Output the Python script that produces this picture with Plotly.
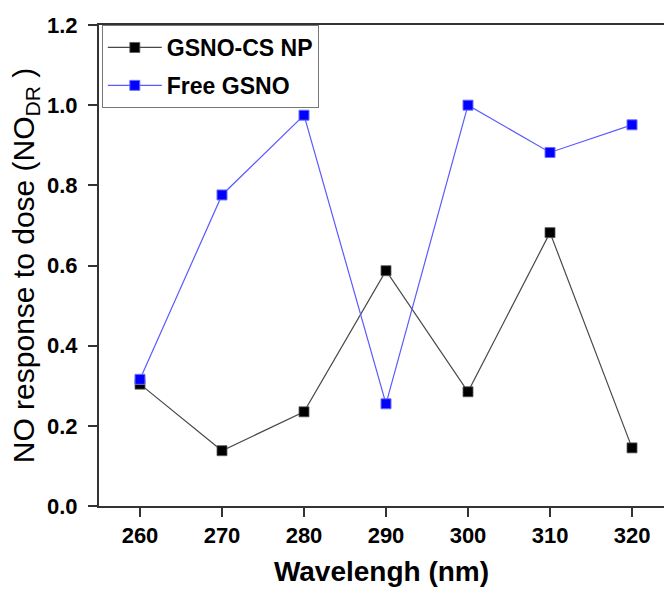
import plotly.graph_objects as go

# Dados
wavelength = [260, 270, 280, 290, 300, 310, 320]
gsno_cs_np = [0.304, 0.138, 0.235, 0.587, 0.285, 0.682, 0.145]
free_gsno = [0.316, 0.776, 0.975, 0.255, 1.000, 0.882, 0.951]

FONT = "Liberation Sans, Arial, sans-serif"

fig = go.Figure()
fig.add_trace(go.Scatter(
    x=wavelength, y=gsno_cs_np, mode="lines+markers", name="GSNO-CS NP",
    line=dict(color="rgba(40,40,40,0.85)", width=1.2),
    marker=dict(symbol="square", size=10, color="black",
                line=dict(color="rgba(90,90,90,0.8)", width=1)),
    legendgroup="a",
))
fig.add_trace(go.Scatter(
    x=wavelength, y=free_gsno, mode="lines+markers", name="Free GSNO",
    line=dict(color="rgb(90,90,255)", width=1.2),
    marker=dict(symbol="square", size=10, color="rgb(0,0,255)",
                line=dict(color="rgb(110,110,255)", width=1)),
    legendgroup="b",
))

fig.update_layout(
    width=664, height=590,
    margin=dict(l=99, r=0, t=25, b=84),
    paper_bgcolor="white", plot_bgcolor="white",
    font=dict(family=FONT, color="black"),
    showlegend=True,
    legend=dict(
        x=0.005, y=1, xanchor="left", yanchor="top",
        bgcolor="white", bordercolor="#777", borderwidth=1,
        font=dict(size=23, family=FONT, color="black", weight="bold"),
        tracegroupgap=5, itemwidth=54,
    ),
    xaxis=dict(
        range=[255, 323.9], tickvals=wavelength,
        showline=True, linecolor="#333", linewidth=2, mirror=True,
        ticks="outside", ticklen=9, tickwidth=2, tickcolor="#333",
        showgrid=False, zeroline=False, automargin=False,
        tickfont=dict(size=22, family=FONT, weight="bold"),
        title=dict(text="<b>Wavelengh (nm)</b>", font=dict(size=28, family=FONT), standoff=14),
    ),
    yaxis=dict(
        range=[0, 1.2], tickvals=[0, 0.2, 0.4, 0.6, 0.8, 1.0, 1.2],
        tickformat=".1f",
        showline=True, linecolor="#333", linewidth=2,
        ticks="outside", ticklen=9, tickwidth=2, tickcolor="#333",
        showgrid=False, zeroline=False, automargin=False,
        ticklabelstandoff=6,
        tickfont=dict(size=22, family=FONT, weight="bold"),
        title=dict(text="NO response to dose (NO<sub>DR</sub> )", font=dict(size=30, family=FONT), standoff=4),
    ),
)

# tira a margem padrão do body para o gráfico ocupar a janela inteira
fig.write_html("out.html", config={"displayModeBar": False},
               post_script="document.body.style.margin='0';document.body.style.overflow='hidden';")
